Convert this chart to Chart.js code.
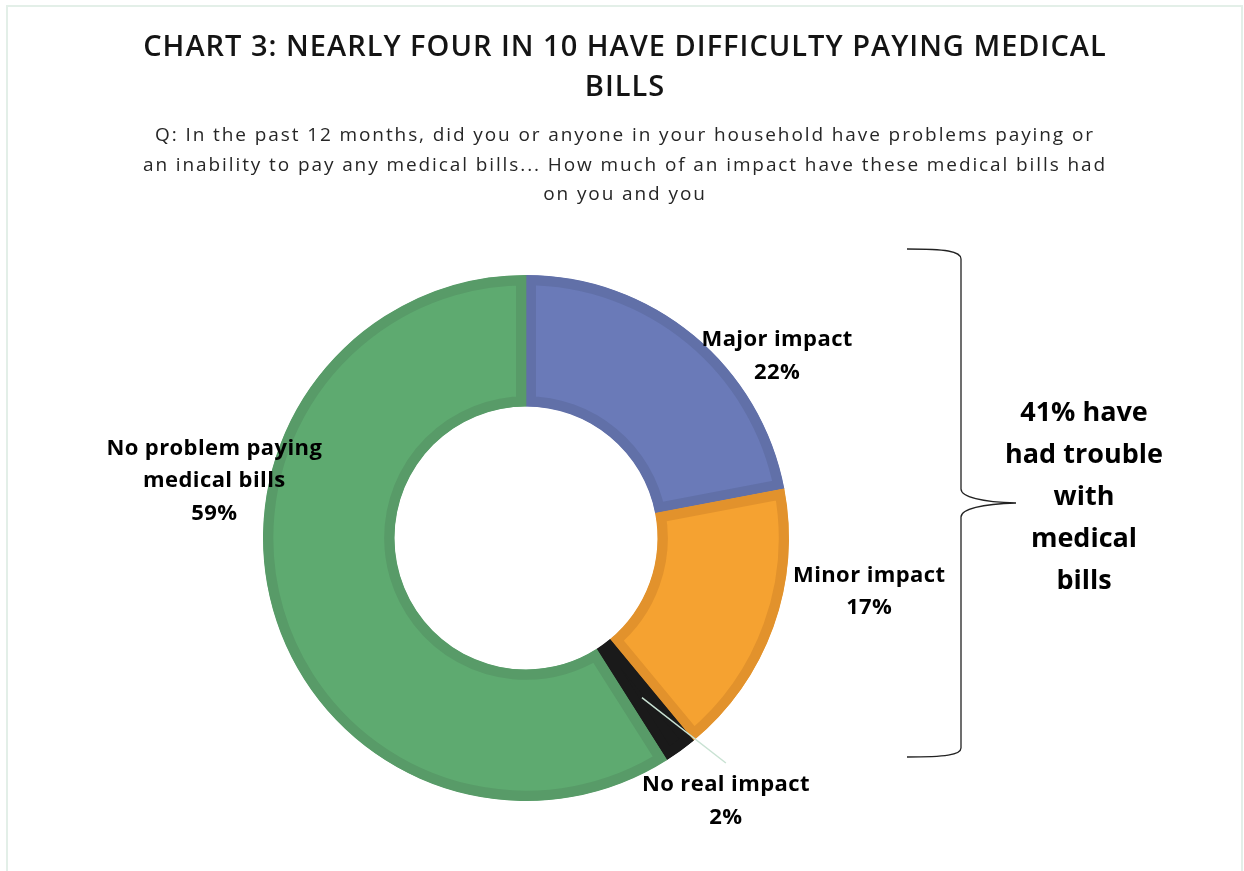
<!DOCTYPE html>
<html>
<head>
<meta charset="utf-8">
<script src="https://cdn.jsdelivr.net/npm/chart.js@4.4.1/dist/chart.umd.min.js"></script>
<style>
  html, body { margin: 0; padding: 0; background: #ffffff; }
  #wrap { position: relative; width: 1244px; height: 871px; }
</style>
</head>
<body>
<div id="wrap"><canvas id="chart" width="1244" height="871"></canvas></div>
<script>
// Survey shares, clockwise from 12 o'clock
const categories = ['Major impact', 'Minor impact', 'No real impact', 'No problem paying medical bills'];
const shares = [22, 17, 2, 59];
// Line breaks used for the slice captions
const captionLines = [['Major impact'], ['Minor impact'], ['No real impact'], ['No problem paying', 'medical bills']];
// Slices that count as "trouble with medical bills"
const troubleCategories = ['Major impact', 'Minor impact', 'No real impact'];

const titleLines = ['CHART 3: NEARLY FOUR IN 10 HAVE DIFFICULTY PAYING MEDICAL', 'BILLS'];
const subtitleLines = [
  'Q: In the past 12 months, did you or anyone in your household have problems paying or',
  'an inability to pay any medical bills... How much of an impact have these medical bills had',
  'on you and you'
];

const fillColors = ['#6a7ab8', '#f5a231', '#1a1a1a', '#5eaa70'];
const edgeColors = ['#6170a8', '#e2922c', '#1a1a1a', '#589b68'];

// Caption block centres, relative to the doughnut centre in units of its outer radius
const captionAnchors = [
  { dx: 0.955, dy: -0.692 },
  { dx: 1.305, dy: 0.205 },
  { dx: 0.760, dy: 1.000 },
  { dx: -1.185, dy: -0.217 }
];

const FONT = '"Open Sans", "Noto Sans", "DejaVu Sans", sans-serif';

function drawSpaced(ctx, text, x, y, spacing) {
  ctx.letterSpacing = spacing + 'px';
  ctx.fillText(text, x, y);
  ctx.letterSpacing = '0px';
}

const annotations = {
  id: 'annotations',
  afterDraw(chart) {
    const ctx = chart.ctx;
    const meta = chart.getDatasetMeta(0);
    const arc0 = meta.data[0];
    const cx = arc0.x, cy = arc0.y, R = arc0.outerRadius;
    ctx.save();

    // outer frame
    ctx.strokeStyle = '#e3efe8';
    ctx.lineWidth = 2;
    ctx.strokeRect(7, 6, 1235, 900);

    // title
    ctx.fillStyle = '#141414';
    ctx.textAlign = 'center';
    ctx.textBaseline = 'middle';
    ctx.font = '600 29px ' + FONT;
    titleLines.forEach((t, i) => drawSpaced(ctx, t, 625, 48 + i * 40, 1.0));

    // subtitle
    ctx.fillStyle = '#262626';
    ctx.font = '400 19px ' + FONT;
    subtitleLines.forEach((t, i) => drawSpaced(ctx, t, 625, 136 + i * 29.5, 1.9));

    // leader line for the thin slice
    const thin = meta.data[2];
    const mid = (thin.startAngle + thin.endAngle) / 2;
    const rMid = (thin.innerRadius + thin.outerRadius) / 2;
    const a2 = captionAnchors[2];
    ctx.strokeStyle = '#c9e2d3';
    ctx.lineWidth = 1.5;
    ctx.beginPath();
    ctx.moveTo(cx + Math.cos(mid) * rMid, cy + Math.sin(mid) * rMid);
    ctx.lineTo(cx + a2.dx * R, cy + a2.dy * R - 38);
    ctx.stroke();

    // slice captions
    ctx.fillStyle = '#000000';
    ctx.font = '700 22px ' + FONT;
    captionLines.forEach((lines, i) => {
      const a = captionAnchors[i];
      const x = cx + a.dx * R, y = cy + a.dy * R;
      const all = lines.concat([shares[i] + '%']);
      const top = y - (all.length - 1) * 32.5 / 2;
      all.forEach((t, j) => drawSpaced(ctx, t, x, top + j * 32.5, 0.4));
    });

    // brace
    ctx.strokeStyle = '#222222';
    ctx.lineWidth = 1.3;
    ctx.beginPath();
    ctx.moveTo(907, 249);
    ctx.bezierCurveTo(945, 249, 961, 251, 961, 259);
    ctx.lineTo(961, 489);
    ctx.bezierCurveTo(961, 497, 982, 502, 1016, 503);
    ctx.bezierCurveTo(982, 504, 961, 509, 961, 517);
    ctx.lineTo(961, 748);
    ctx.bezierCurveTo(961, 755, 945, 757, 907, 757);
    ctx.stroke();

    // total callout
    const total = troubleCategories.reduce((s, c) => s + shares[categories.indexOf(c)], 0);
    const callout = [total + '% have', 'had trouble', 'with', 'medical', 'bills'];
    ctx.fillStyle = '#000000';
    ctx.font = '700 27px ' + FONT;
    callout.forEach((t, i) => ctx.fillText(t, 1084, 413 + i * 42));

    ctx.restore();
  }
};

new Chart(document.getElementById('chart'), {
  type: 'doughnut',
  data: {
    labels: categories,
    datasets: [{
      data: shares,
      backgroundColor: fillColors,
      borderColor: edgeColors,
      borderWidth: 10,
      borderAlign: 'inner',
      borderJoinStyle: 'miter',
      hoverOffset: 0
    }]
  },
  options: {
    responsive: false,
    animation: false,
    cutout: '50%',
    layout: { padding: { left: 263, right: 455, top: 275, bottom: 70 } },
    plugins: {
      legend: { display: false },
      tooltip: { enabled: false },
      title: { display: false }
    },
    events: []
  },
  plugins: [annotations]
});
</script>
</body>
</html>
